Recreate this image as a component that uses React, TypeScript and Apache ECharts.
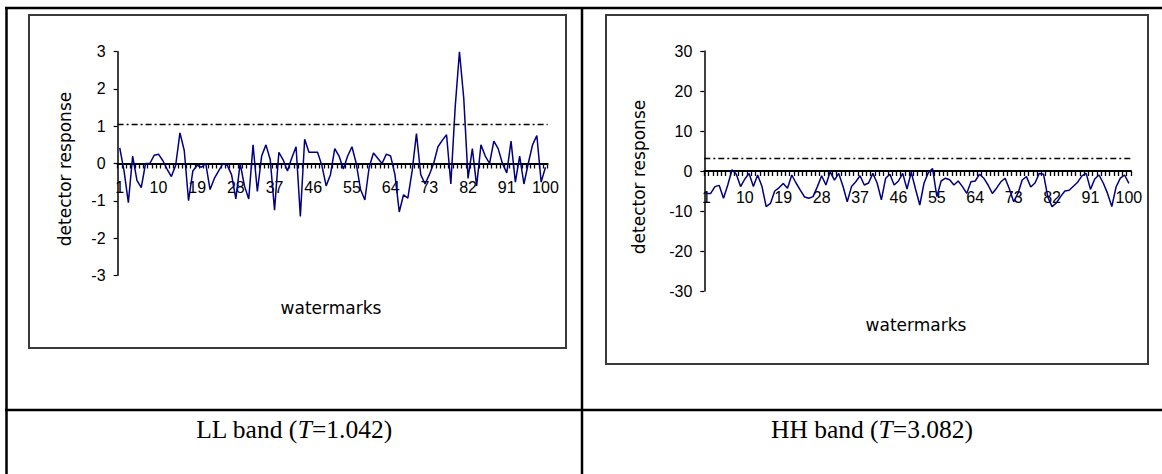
import React, { useEffect, useRef } from "react";
import * as echarts from "echarts";

const categories: string[] = Array.from({ length: 100 }, (_, i) => String(i + 1));

const llResponse: number[] = [
  0.42, -0.2, -1.05, 0.2, -0.45, -0.65, 0.0, 0.0, 0.22, 0.25,
  0.08, -0.15, -0.35, -0.05, 0.82, 0.35, -1.0, -0.2, -0.05, -0.1,
  0.0, -0.7, -0.4, -0.2, 0.0, -0.05, -0.3, -0.95, 0.0, -0.6,
  -0.95, 0.5, -0.75, 0.2, 0.5, 0.1, -1.25, 0.3, 0.1, -0.2,
  0.15, 0.45, -1.42, 0.65, 0.3, 0.3, 0.3, -0.05, -0.6, -0.3,
  0.4, 0.2, -0.15, 0.2, 0.45, 0.0, -0.7, -0.98, -0.1, 0.28,
  0.14, 0.0, 0.25, 0.2, -0.3, -1.3, -0.84, -0.93, -0.2, 0.8,
  -0.3, -0.55, -0.3, 0.0, 0.45, 0.62, 0.77, -0.55, 1.5, 3.0,
  1.75, -0.4, 0.4, -0.6, 0.5, 0.2, 0.0, 0.6, 0.4, 0.0,
  -0.25, 0.6, -0.5, 0.2, -0.55, 0.0, 0.5, 0.75, -0.5, -0.1,
];

const hhResponse: number[] = [
  -5.6, -5.6, -3.9, -3.6, -6.8, -3.5, 0.3, -0.8, -3.9, -2.0,
  -0.6, -3.9, -1.0, -3.8, -8.9, -8.1, -5.0, -4.2, -3.1, -4.3,
  -1.0, -3.0, -4.8, -6.5, -6.8, -6.4, -3.9, -1.2, -3.5, -0.2,
  -2.3, -0.6, -3.8, -7.7, -3.9, -2.7, -1.2, -3.5, -3.0, -0.6,
  -3.0, -7.2, -1.8, -0.8, -3.5, -2.5, -0.6, -4.5, -0.3, -4.5,
  -8.5, -3.0, -0.4, 0.6, -6.4, -2.5, -1.8, -2.2, -3.5, -2.5,
  -3.9, -5.6, -2.7, -2.5, -0.8, -1.8, -3.5, -5.6, -4.3, -2.7,
  -1.8, -4.5, -7.7, -5.6, -2.25, -1.4, -4.0, -3.0, -0.6, -0.8,
  -6.5, -8.9, -8.0, -6.4, -5.0, -4.8, -3.8, -2.8, -1.2, -0.6,
  -4.6, -2.0, -1.0, -3.0, -5.6, -8.9, -4.0, -1.8, -1.0, -3.1,
];

const llThreshold = 1.042;
const hhThreshold = 3.082;
const llAxis = { min: -3, max: 3, interval: 1 };
const hhAxis = { min: -30, max: 30, interval: 10 };
const yTitle = "detector response";
const xTitle = "watermarks";
const llCaption = { pre: "LL band (", it: "T", post: "=1.042)" };
const hhCaption = { pre: "HH band (", it: "T", post: "=3.082)" };

const TICK_FONT = "Liberation Sans";
const TITLE_FONT = "DejaVu Sans";
const SERIF = "Liberation Serif";

function xAxisCfg(gridIndex: number, offset: number, margin: number) {
  return {
    type: "category",
    gridIndex,
    data: categories,
    boundaryGap: true,
    offset,
    axisLine: { show: true, onZero: false, lineStyle: { color: "#000", width: 2 } },
    axisTick: { show: true, interval: 0, length: 5, inside: false, lineStyle: { color: "#000", width: 1.3 } },
    axisLabel: { interval: 8, color: "#000", fontSize: 16, fontFamily: TICK_FONT, margin },
    splitLine: { show: false },
  };
}

function yAxisCfg(gridIndex: number, a: { min: number; max: number; interval: number }) {
  return {
    type: "value",
    gridIndex,
    min: a.min,
    max: a.max,
    interval: a.interval,
    axisLine: { show: true, onZero: false, lineStyle: { color: "#000", width: 1.5 } },
    axisTick: { show: true, length: 4, inside: false, lineStyle: { color: "#000", width: 1.2 } },
    axisLabel: { color: "#000", fontSize: 16, fontFamily: TICK_FONT, margin: 12 },
    splitLine: { show: false },
  };
}

function lineSeries(idx: number, data: number[], threshold: number) {
  return {
    type: "line",
    xAxisIndex: idx,
    yAxisIndex: idx,
    data,
    symbol: "none",
    lineStyle: { color: "#000080", width: 1.5 },
    itemStyle: { color: "#000080" },
    z: 3,
    markLine: {
      silent: true,
      symbol: ["none", "none"],
      label: { show: false },
      lineStyle: { color: "#000", type: [6, 3, 2, 3], width: 1.3 },
      data: [{ yAxis: threshold }],
    },
  };
}

function captionText(x: number, y: number, c: { pre: string; it: string; post: string }) {
  return {
    type: "text",
    x,
    y,
    style: {
      text: `{n|${c.pre}}{i|${c.it}}{n|${c.post}}`,
      align: "center",
      verticalAlign: "middle",
      rich: {
        n: { fontFamily: SERIF, fontSize: 25.5, fill: "#000" },
        i: { fontFamily: SERIF, fontSize: 25.5, fill: "#000", fontStyle: "italic" },
      },
    },
  };
}

function titleText(x: number, y: number, text: string, rotate: boolean) {
  return {
    type: "text",
    x,
    y,
    rotation: rotate ? Math.PI / 2 : 0,
    style: {
      text,
      fontFamily: TITLE_FONT,
      fontSize: 17,
      fill: "#000",
      align: "center",
      verticalAlign: "middle",
    },
  };
}

export default function App() {
  const ref = useRef<HTMLDivElement>(null);
  useEffect(() => {
    if (!ref.current) return;
    const chart = echarts.init(ref.current, null, { renderer: "svg" });
    const border = { stroke: "#000", lineWidth: 2.5 };
    chart.setOption({
      animation: false,
      backgroundColor: "#fff",
      grid: [
        { left: 117.6, top: 51.7, width: 430, height: 223.6, containLabel: false },
        { left: 704.3, top: 51, width: 426.7, height: 240, containLabel: false },
      ],
      xAxis: [xAxisCfg(0, -111.8, 16), xAxisCfg(1, -120, 18)],
      yAxis: [yAxisCfg(0, llAxis), yAxisCfg(1, hhAxis)],
      series: [lineSeries(0, llResponse, llThreshold), lineSeries(1, hhResponse, hhThreshold)],
      graphic: [
        { type: "line", shape: { x1: 5, y1: 8, x2: 1162, y2: 8 }, style: border },
        { type: "line", shape: { x1: 6.5, y1: 7, x2: 6.5, y2: 474 }, style: border },
        { type: "line", shape: { x1: 582, y1: 7, x2: 582, y2: 474 }, style: border },
        { type: "line", shape: { x1: 5, y1: 410, x2: 1162, y2: 410 }, style: border },
        { type: "rect", z: 0, shape: { x: 29, y: 15, width: 537, height: 333 }, style: { fill: "none", stroke: "#3a3a3a", lineWidth: 2 } },
        { type: "rect", z: 0, shape: { x: 606, y: 15, width: 542, height: 349 }, style: { fill: "none", stroke: "#3a3a3a", lineWidth: 2 } },
        titleText(64.7, 169, yTitle, true),
        titleText(639.4, 177, yTitle, true),
        titleText(331, 308, xTitle, false),
        titleText(916, 325, xTitle, false),
        captionText(294, 429, llCaption),
        captionText(872, 429, hhCaption),
      ],
    });
    return () => chart.dispose();
  }, []);
  return (
    <div
      ref={ref}
      style={{ position: "fixed", left: 0, top: 0, width: 1162, height: 474, background: "#fff" }}
    />
  );
}
